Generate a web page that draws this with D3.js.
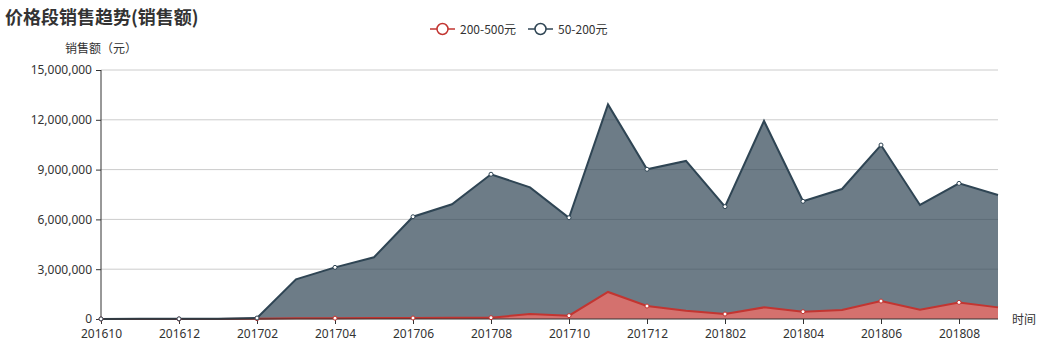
<!DOCTYPE html>
<html>
  <head>
    <meta charset="utf-8" />
    <script src="https://d3js.org/d3.v7.min.js"></script>
    <style>
      body { margin: 0; background: #fff; }
      svg text { font-family: "Noto Sans CJK SC", "Noto Sans", sans-serif; }
    </style>
  </head>
  <body>
    <svg width="1040" height="350"></svg>
    <script>
      // months on the x axis
      var months = [
        "201610", "201611", "201612", "201701", "201702", "201703",
        "201704", "201705", "201706", "201707", "201708", "201709",
        "201710", "201711", "201712", "201801", "201802", "201803",
        "201804", "201805", "201806", "201807", "201808", "201809"
      ];

      // 200-500元 (stacked at the bottom)
      var sales200to500 = [
        0, 0, 0, 0, 20000, 40000,
        50000, 60000, 60000, 70000, 80000, 300000,
        200000, 1630000, 780000, 500000, 300000, 700000,
        440000, 540000, 1080000, 560000, 1000000, 700000
      ];

      // 50-200元 (stacked on top)
      var sales50to200 = [
        5000, 8000, 10000, 12000, 40000, 2350000,
        3060000, 3660000, 6100000, 6840000, 8640000, 7630000,
        5900000, 11300000, 8240000, 9020000, 6470000, 11230000,
        6650000, 7290000, 9400000, 6310000, 7170000, 6770000
      ];

      var yTicks = [0, 3000000, 6000000, 9000000, 12000000, 15000000];
      var seriesNames = ["200-500元", "50-200元"];
      var colors = ["#c23531", "#2f4554"];

      var svg = d3.select("svg");
      var plotLeft = 101, plotRight = 998, plotTop = 70, plotBottom = 319;

      var x = d3.scalePoint().domain(months).range([plotLeft, plotRight]);
      var y = d3.scaleLinear().domain([0, 15000000]).range([plotBottom, plotTop]);

      var table = months.map(function (m, i) {
        return { month: m, a: sales200to500[i], b: sales50to200[i] };
      });
      var stacked = d3.stack().keys(["a", "b"])(table);

      // title
      svg.append("text")
        .attr("x", 5)
        .attr("y", 24)
        .style("font-size", "18px")
        .style("font-weight", "bold")
        .style("fill", "#333")
        .text("价格段销售趋势(销售额)");

      // grid lines
      svg.append("g")
        .selectAll("line")
        .data(yTicks.slice(1))
        .enter()
        .append("line")
        .attr("x1", plotLeft)
        .attr("x2", plotRight)
        .attr("y1", function (d) { return y(d); })
        .attr("y2", function (d) { return y(d); })
        .style("stroke", "#ccc")
        .style("stroke-width", 1);

      // areas + lines
      var area = d3.area()
        .x(function (d) { return x(d.data.month); })
        .y0(function (d) { return y(d[0]); })
        .y1(function (d) { return y(d[1]); });

      var line = d3.line()
        .x(function (d) { return x(d.data.month); })
        .y(function (d) { return y(d[1]); });

      stacked.forEach(function (s, k) {
        svg.append("path")
          .datum(s)
          .attr("d", area)
          .style("fill", colors[k])
          .style("fill-opacity", 0.7);
      });

      stacked.forEach(function (s, k) {
        svg.append("path")
          .datum(s)
          .attr("d", line)
          .style("fill", "none")
          .style("stroke", colors[k])
          .style("stroke-width", 2);
      });

      // y axis
      var yAxis = svg.append("g")
        .attr("transform", "translate(" + plotLeft + ",0)")
        .call(d3.axisLeft(y).tickValues(yTicks).tickSize(5).tickPadding(4)
          .tickFormat(d3.format(",")));
      yAxis.select(".domain").attr("d", "M0," + plotTop + "V" + plotBottom).style("stroke", "#333");
      yAxis.selectAll(".tick line").style("stroke", "#333");
      yAxis.selectAll(".tick text")
        .style("font-size", "12px")
        .style("fill", "#333")
        .style("font-family", "'Noto Sans', sans-serif");

      // x axis
      var xAxis = svg.append("g")
        .attr("transform", "translate(0," + plotBottom + ")")
        .call(d3.axisBottom(x)
          .tickValues(months.filter(function (m, i) { return i % 2 === 0; }))
          .tickSize(5).tickPadding(5));
      xAxis.select(".domain").attr("d", "M" + plotLeft + ",0H" + plotRight).style("stroke", "#333");
      xAxis.selectAll(".tick line").style("stroke", "#333");
      xAxis.selectAll(".tick text")
        .style("font-size", "12px")
        .style("fill", "#333")
        .style("font-family", "'Noto Sans', sans-serif");

      // symbols on every other month
      stacked.forEach(function (s, k) {
        svg.append("g")
          .selectAll("circle")
          .data(s.filter(function (d, i) { return i % 2 === 0; }))
          .enter()
          .append("circle")
          .attr("cx", function (d) { return x(d.data.month); })
          .attr("cy", function (d) { return y(d[1]); })
          .attr("r", 2)
          .style("fill", "#fff")
          .style("stroke", colors[k])
          .style("stroke-width", 1);
      });

      // axis names
      svg.append("text")
        .attr("x", plotLeft)
        .attr("y", 53)
        .attr("text-anchor", "middle")
        .style("font-size", "12px")
        .style("fill", "#333")
        .text("销售额（元）");

      svg.append("text")
        .attr("x", 1012)
        .attr("y", 324)
        .style("font-size", "12px")
        .style("fill", "#333")
        .text("时间");

      // legend
      var legendX = [430, 528];
      seriesNames.forEach(function (name, k) {
        var g = svg.append("g").attr("transform", "translate(" + legendX[k] + ",29)");
        g.append("line")
          .attr("x1", 0).attr("x2", 25)
          .style("stroke", colors[k])
          .style("stroke-width", 1.5);
        g.append("circle")
          .attr("cx", 12.5).attr("r", 5.5)
          .style("fill", "#fff")
          .style("stroke", colors[k])
          .style("stroke-width", 1.5);
        g.append("text")
          .attr("x", 30)
          .attr("y", 4.5)
          .style("font-size", "12px")
          .style("fill", "#333")
          .text(name);
      });
    </script>
  </body>
</html>
